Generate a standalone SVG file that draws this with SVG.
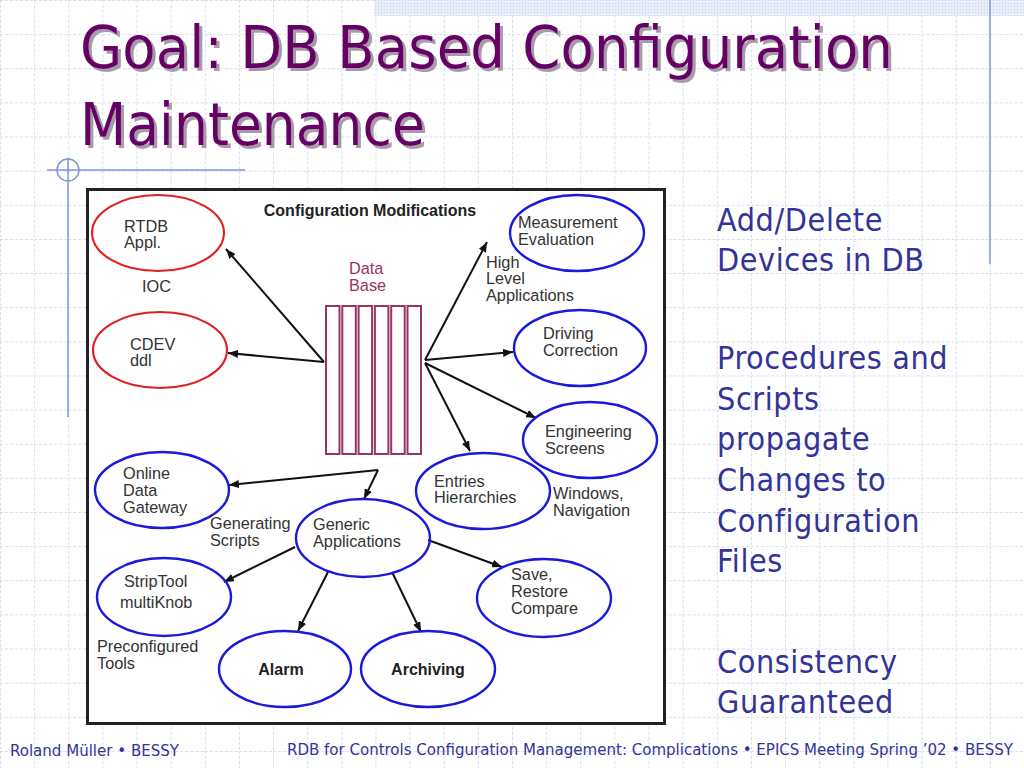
<svg xmlns="http://www.w3.org/2000/svg" width="1024" height="768" viewBox="0 0 1024 768">
<defs>
<pattern id="grid" x="0" y="0" width="34.133" height="34.133" patternUnits="userSpaceOnUse">
<path d="M0 0.5 H34.133 M0.5 0 V34.133" fill="none" stroke="#d6dcf0" stroke-width="1" stroke-dasharray="3 2"/>
</pattern>
<pattern id="dots" x="0" y="0" width="3" height="3" patternUnits="userSpaceOnUse">
<rect width="3" height="3" fill="#e9eef9"/>
<rect width="1" height="1" fill="#c6d2ef"/>
</pattern>
<filter id="shadow" x="-5%" y="-20%" width="110%" height="140%">
<feOffset in="SourceAlpha" dx="3" dy="3" result="o"/>
<feFlood flood-color="#a89aa8"/>
<feComposite in2="o" operator="in" result="s"/>
<feMerge><feMergeNode in="s"/><feMergeNode in="SourceGraphic"/></feMerge>
</filter>
<marker id="ah" viewBox="0 0 10 8" refX="10" refY="4" markerWidth="10" markerHeight="8" markerUnits="userSpaceOnUse" orient="auto">
<path d="M0 0 L10 4 L0 8 Z" fill="#111"/>
</marker>
<style>
.t{font-family:"DejaVu Sans Condensed","DejaVu Sans",sans-serif;}
.title{font-size:59px;fill:#660066;}
.bul{font-size:32px;fill:#333399;letter-spacing:0.6px;}
.foot{font-size:16px;fill:#333399;}
.d{font-family:"Liberation Sans",Arial,sans-serif;font-size:16.3px;fill:#333;}
.b{font-family:"Liberation Sans",Arial,sans-serif;font-size:16px;font-weight:bold;fill:#222;}
.red{fill:none;stroke:#e02020;stroke-width:2.2;}
.blue{fill:none;stroke:#1a1adb;stroke-width:2.4;}
.db{fill:none;stroke:#993366;stroke-width:2;}
.c{fill:none;stroke:#111;stroke-width:2;}
</style>
</defs>
<rect width="1024" height="768" fill="#ffffff"/>
<rect width="1024" height="768" fill="url(#grid)"/>
<rect x="374" y="0" width="650" height="16" fill="url(#dots)"/>
<line x1="990" y1="0" x2="990" y2="264" stroke="#7f96d6" stroke-width="1.5"/>
<line x1="47" y1="170" x2="245" y2="170" stroke="#7f96d6" stroke-width="1.5"/>
<line x1="68" y1="158" x2="68" y2="417" stroke="#7f96d6" stroke-width="1.5"/>
<circle cx="68" cy="170" r="11" fill="none" stroke="#7f96d6" stroke-width="1.5"/>

<g id="title" filter="url(#shadow)">
<text class="t title" x="80" y="68" textLength="813" lengthAdjust="spacingAndGlyphs">Goal: DB Based Configuration</text>
<text class="t title" x="80" y="145" textLength="345" lengthAdjust="spacingAndGlyphs">Maintenance</text>
</g>

<g id="bullets" class="t bul">
<text x="717" y="231">Add/Delete</text>
<text x="717" y="271">Devices in DB</text>
<text x="717" y="369">Procedures and</text>
<text x="717" y="410">Scripts</text>
<text x="717" y="450">propagate</text>
<text x="717" y="491">Changes to</text>
<text x="717" y="532">Configuration</text>
<text x="717" y="572">Files</text>
<text x="717" y="673">Consistency</text>
<text x="717" y="713">Guaranteed</text>
</g>

<g id="footer" class="t foot">
<text x="10" y="756" textLength="169" lengthAdjust="spacingAndGlyphs">Roland Müller • BESSY</text>
<text x="287" y="755" textLength="726" lengthAdjust="spacingAndGlyphs">RDB for Controls Configuration Management: Complications • EPICS Meeting Spring ’02 • BESSY</text>
</g>

<rect id="frame" x="87.5" y="189.5" width="577" height="534" fill="#ffffff" stroke="#222" stroke-width="3"/>
<text class="b" x="370" y="216" text-anchor="middle" font-size="13.5">Configuration Modifications</text>

<g id="database">
<text class="d" x="349" y="274" style="fill:#993366">Data</text>
<text class="d" x="349" y="291" style="fill:#993366">Base</text>
<rect class="db" x="326" y="306" width="13.5" height="148"/>
<rect class="db" x="342.3" y="306" width="13.5" height="148"/>
<rect class="db" x="358.6" y="306" width="13.5" height="148"/>
<rect class="db" x="374.9" y="306" width="13.5" height="148"/>
<rect class="db" x="391.2" y="306" width="13.5" height="148"/>
<rect class="db" x="407.5" y="306" width="13.5" height="148"/>
</g>

<g id="connectors">
<line class="c" x1="324" y1="362" x2="226" y2="249" marker-end="url(#ah)"/>
<line class="c" x1="324" y1="362" x2="228" y2="353" marker-end="url(#ah)"/>
<line class="c" x1="425" y1="360" x2="487" y2="242" marker-end="url(#ah)"/>
<line class="c" x1="425" y1="360" x2="513" y2="352" marker-end="url(#ah)"/>
<line class="c" x1="425" y1="363" x2="536" y2="418" marker-end="url(#ah)"/>
<line class="c" x1="425" y1="363" x2="470" y2="451" marker-end="url(#ah)"/>
<line class="c" x1="378" y1="470" x2="229" y2="485" marker-end="url(#ah)"/>
<line class="c" x1="378" y1="470" x2="364" y2="499" marker-end="url(#ah)"/>
<line class="c" x1="295" y1="547" x2="224" y2="582" marker-end="url(#ah)"/>
<line class="c" x1="328" y1="572" x2="298" y2="631" marker-end="url(#ah)"/>
<line class="c" x1="392" y1="572" x2="421" y2="632" marker-end="url(#ah)"/>
<line class="c" x1="428" y1="540" x2="502" y2="567" marker-end="url(#ah)"/>
</g>

<g id="rtdb">
<ellipse class="red" cx="158" cy="233" rx="66" ry="38"/>
<text class="d" x="124" y="232">RTDB</text>
<text class="d" x="124" y="248">Appl.</text>
</g>
<g id="ioc"><text class="d" x="142" y="292">IOC</text></g>
<g id="cdev">
<ellipse class="red" cx="160" cy="350" rx="67" ry="38"/>
<text class="d" x="130" y="350">CDEV</text>
<text class="d" x="130" y="366">ddl</text>
</g>
<g id="measurement">
<ellipse class="blue" cx="577" cy="233" rx="67" ry="38"/>
<text class="d" x="518" y="228">Measurement</text>
<text class="d" x="518" y="245">Evaluation</text>
</g>
<g id="highlevel">
<text class="d" x="486" y="268">High</text>
<text class="d" x="486" y="284">Level</text>
<text class="d" x="486" y="301">Applications</text>
</g>
<g id="driving">
<ellipse class="blue" cx="580" cy="348" rx="66" ry="38"/>
<text class="d" x="543" y="339">Driving</text>
<text class="d" x="543" y="356">Correction</text>
</g>
<g id="engineering">
<ellipse class="blue" cx="590" cy="440" rx="67" ry="38"/>
<text class="d" x="545" y="437">Engineering</text>
<text class="d" x="545" y="454">Screens</text>
</g>
<g id="entries">
<ellipse class="blue" cx="483" cy="491" rx="67" ry="38"/>
<text class="d" x="434" y="487">Entries</text>
<text class="d" x="434" y="503">Hierarchies</text>
</g>
<g id="windows">
<text class="d" x="553" y="499">Windows,</text>
<text class="d" x="553" y="516">Navigation</text>
</g>
<g id="generic">
<ellipse class="blue" cx="363" cy="538" rx="67" ry="39"/>
<text class="d" x="313" y="530">Generic</text>
<text class="d" x="313" y="547">Applications</text>
</g>
<g id="online">
<ellipse class="blue" cx="162" cy="490" rx="67" ry="38"/>
<text class="d" x="123" y="479">Online</text>
<text class="d" x="123" y="496">Data</text>
<text class="d" x="123" y="513">Gateway</text>
</g>
<g id="generating">
<text class="d" x="210" y="529">Generating</text>
<text class="d" x="210" y="546">Scripts</text>
</g>
<g id="striptool">
<ellipse class="blue" cx="164" cy="597" rx="67" ry="39"/>
<text class="d" x="124" y="587">StripTool</text>
<text class="d" x="120" y="608">multiKnob</text>
</g>
<g id="preconfigured">
<text class="d" x="97" y="652">Preconfigured</text>
<text class="d" x="97" y="669">Tools</text>
</g>
<g id="alarm">
<ellipse class="blue" cx="285" cy="669" rx="66" ry="38"/>
<text class="b" x="281" y="675" text-anchor="middle">Alarm</text>
</g>
<g id="archiving">
<ellipse class="blue" cx="428" cy="669" rx="67" ry="38"/>
<text class="b" x="428" y="675" text-anchor="middle">Archiving</text>
</g>
<g id="save">
<ellipse class="blue" cx="544" cy="598" rx="67" ry="39"/>
<text class="d" x="511" y="580">Save,</text>
<text class="d" x="511" y="597">Restore</text>
<text class="d" x="511" y="614">Compare</text>
</g>
</svg>
